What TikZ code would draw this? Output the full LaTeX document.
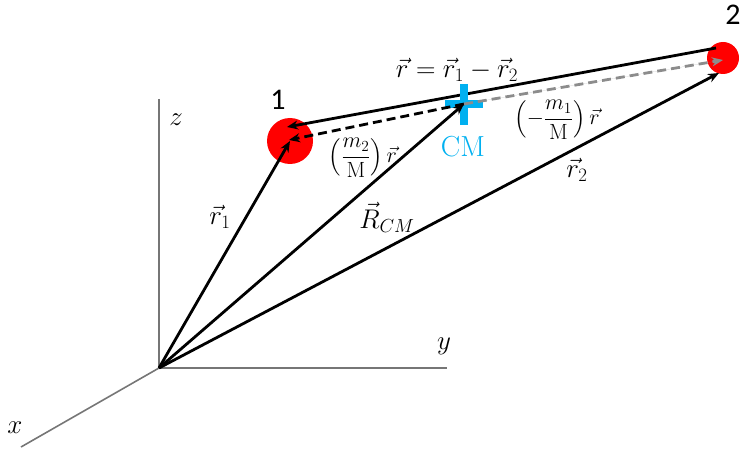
\RequirePackage{fix-cm}
\documentclass[tikz,border=0pt]{standalone}
\usepackage{amsmath}
\usepackage{fontspec}
\usetikzlibrary{arrows.meta}
\newfontfamily\digitfont{Carlito}
\definecolor{cmblue}{RGB}{0,176,240}
\definecolor{ballred}{RGB}{255,0,0}
\definecolor{axisgray}{RGB}{118,118,118}
\definecolor{dashgray}{RGB}{140,140,140}
\begin{document}
\begin{tikzpicture}[x=1pt,y=-1pt,
  vec/.style={line width=2.8pt,-{Stealth[length=11pt,width=9pt]}},
  axis/.style={line width=1.6pt,draw=axisgray},
  ball/.style={circle,fill=ballred,draw=none,inner sep=0pt},
  lbl/.style={font=\fontsize{27}{31}\selectfont,inner sep=0pt},
  frac/.style={font=\fontsize{22}{26}\selectfont,inner sep=0pt},
  cross/.style={line width=8pt,draw=cmblue},
  dashblack/.style={dash pattern=on 9pt off 5pt},
  dashgrey/.style={dash pattern=on 9pt off 5pt,draw=dashgray,fill=dashgray}]
\useasboundingbox (0,0) rectangle (747,449);
% axes
\coordinate (O) at (159,368);
\coordinate (ztop) at (159,99);
\coordinate (yend) at (447,368);
\coordinate (xend) at (21,447);
\draw[axis] (ztop) -- (O) -- (yend);
\draw[axis] (O) -- (xend);
\node[lbl] (zl) at (176,120) {$z$};
\node[lbl] (yl) at (444,346) {$y$};
\node[lbl] (xl) at (15,428) {$x$};
% particles
\node[ball,minimum size=46pt] (p1) at (290,141) {};
\node[ball,minimum size=32pt] (p2) at (723,58) {};
\node[lbl,font=\fontsize{30}{34}\digitfont] (n1) at (278,100) {1};
\node[lbl,font=\fontsize{30}{34}\digitfont] (n2) at (733,15) {2};
% key points
\coordinate (cm) at (464,104);
\coordinate (rstart) at (716,48);
\coordinate (rtip) at (287,127);
\coordinate (dtip) at (289,140);
\coordinate (r2tip) at (719,73);
\coordinate (gtip) at (723,60);
% relative vector r
\draw[vec] (rstart) -- (rtip);
% CM cross
\draw[cross] ([yshift=20pt]cm) -- ([yshift=-21pt]cm);
\draw[cross] ([xshift=-19pt]cm) -- ([xshift=19pt]cm);
% vectors from origin
\draw[vec] (O) -- (p1.center);
\draw[vec] (O) -- (r2tip);
\draw[vec] (O) -- (cm);
% dashed parts
\draw[vec,dashblack] (cm) -- (dtip);
\draw[vec,dashgrey] (cm) -- (gtip);
% labels
\node[lbl] (rl) at (457,70) {$\vec r = \vec r_1 - \vec r_2$};
\node[frac] (f2) at (363,158) {$\left(\dfrac{m_2}{\mathrm{M}}\right)\vec r$};
\node[frac] (f1) at (557,120) {$\left(-\dfrac{m_1}{\mathrm{M}}\right)\vec r$};
\node[lbl] (r2l) at (577,170) {$\vec r_2$};
\node[lbl] (r1l) at (220,217) {$\vec r_1$};
\node[lbl] (Rl) at (387,217) {$\vec R_{CM}$};
\node[lbl,font=\fontsize{29}{32}\selectfont,text=cmblue] (cml) at (463,147) {CM};
\end{tikzpicture}
\end{document}
